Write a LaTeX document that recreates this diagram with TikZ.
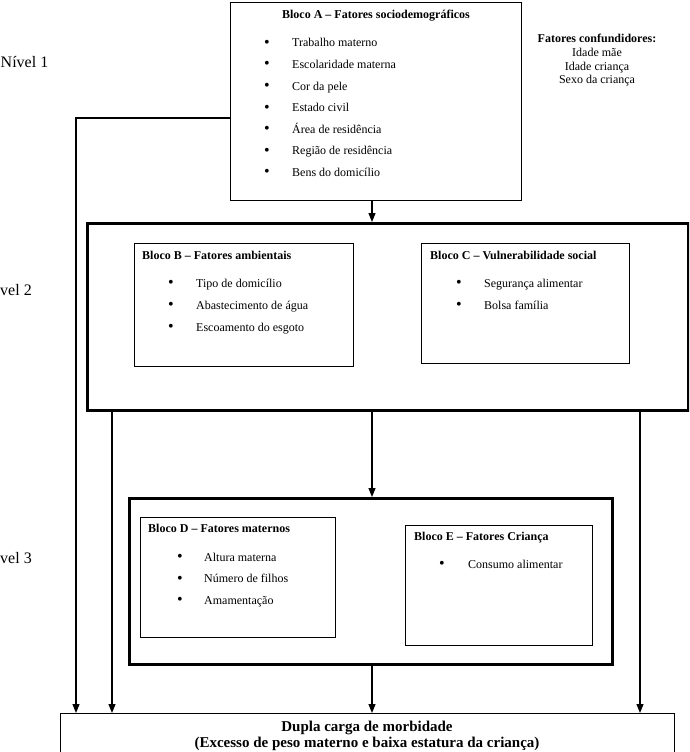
\documentclass[tikz,border=0pt]{standalone}
\usepackage{fontspec}
\setmainfont{Liberation Serif}
\usetikzlibrary{arrows.meta}
\begin{document}
\begin{tikzpicture}[x=1pt,y=-1pt,
  box/.style={draw, line width=0.9pt, inner sep=0pt, anchor=north west},
  bigbox/.style={draw, line width=2.8pt, inner sep=0pt, anchor=north west},
  ttl/.style={font=\fontsize{12}{14}\selectfont\bfseries, inner sep=0pt, anchor=base west},
  itm/.style={font=\fontsize{12}{14}\selectfont, inner sep=0pt, anchor=base west},
  bul/.style={font=\fontsize{16}{18}\selectfont, inner sep=0pt, anchor=base},
  cf/.style={font=\fontsize{12}{14}\selectfont, inner sep=0pt, anchor=base},
  lvl/.style={font=\fontsize{16}{18}\selectfont, inner sep=0pt},
  big/.style={font=\fontsize{15}{17}\selectfont\bfseries, inner sep=0pt, anchor=base},
  arr/.style={line width=1.2pt, -{Triangle[length=9pt,width=7pt]}}
]
\useasboundingbox (0,0) rectangle (689,752);
\clip (0,0) rectangle (689,752);

% boxes
\node[box, minimum width=291pt, minimum height=198pt] (A) at (230,2) {};
\node[bigbox, minimum width=601pt, minimum height=187pt] (BC) at (86,222) {};
\node[box, minimum width=219pt, minimum height=123pt] (B) at (134,243) {};
\node[box, minimum width=208pt, minimum height=120pt] (C) at (421,243) {};
\node[bigbox, minimum width=483pt, minimum height=166pt] (DE) at (128,497) {};
\node[box, minimum width=195pt, minimum height=120pt] (D) at (140,517) {};
\node[box, minimum width=187pt, minimum height=120pt] (E) at (405,525) {};
\node[box, minimum width=614pt, minimum height=70pt] (F) at (60,713) {};

% level labels
\node[lvl, anchor=west] (n1) at (0.5,62) {Nível 1};
\node[lvl, anchor=west] (n2) at (0,290) {vel 2};
\node[lvl, anchor=west] (n3) at (0,558) {vel 3};

% Block A
\node[ttl, anchor=base] (At) at (376,19) {Bloco A – Fatores sociodemográficos};
\foreach \t [count=\i] in {Trabalho materno, Escolaridade materna, Cor da pele, Estado civil, Área de residência, Região de residência, Bens do domicílio} {
  \node[bul] (Ab\i) at (267,{47.5+21.5*(\i-1)}) {•};
  \node[itm] (Ai\i) at (292,{47+21.5*(\i-1)}) {\t};
}

% confounders
\node[cf, font=\fontsize{12}{14}\selectfont\bfseries] (cf0) at (597,43) {Fatores confundidores:};
\node[cf] (cf1) at (597,57) {Idade mãe};
\node[cf] (cf2) at (597,70.5) {Idade criança};
\node[cf] (cf3) at (597,84) {Sexo da criança};

% Block B
\node[ttl] (Bt) at (142,259) {Bloco B – Fatores ambientais};
\foreach \t [count=\i] in {Tipo de domicílio, Abastecimento de água, Escoamento do esgoto} {
  \node[bul] (Bb\i) at (171,{287.5+22*(\i-1)}) {•};
  \node[itm] (Bi\i) at (196,{287+22*(\i-1)}) {\t};
}

% Block C
\node[ttl] (Ct) at (430,259) {Bloco C – Vulnerabilidade social};
\foreach \t [count=\i] in {Segurança alimentar, Bolsa família} {
  \node[bul] (Cb\i) at (459,{287.5+22*(\i-1)}) {•};
  \node[itm] (Ci\i) at (484,{287+22*(\i-1)}) {\t};
}

% Block D
\node[ttl] (Dt) at (148,532) {Bloco D – Fatores maternos};
\foreach \t [count=\i] in {Altura materna, Número de filhos, Amamentação} {
  \node[bul] (Db\i) at (180,{561.5+21.5*(\i-1)}) {•};
  \node[itm] (Di\i) at (204,{561+21.5*(\i-1)}) {\t};
}

% Block E
\node[ttl] (Et) at (414,540) {Bloco E – Fatores Criança};
\node[bul] (Eb1) at (442,568.5) {•};
\node[itm] (Ei1) at (468,568) {Consumo alimentar};

% outcome
\node[big] (F1) at (367,731) {Dupla carga de morbidade};
\node[big] (F2) at (367,747.5) {(Excesso de peso materno e baixa estatura da criança)};

% connectors
\draw[arr] (A.west |- 0,118) -| (F.north -| 76,0);
\draw[arr] (A.south -| 372,0) -- (BC.north -| 372,0);
\draw[arr] (BC.south -| 112,0) -- (F.north -| 112,0);
\draw[arr] (BC.south -| 372,0) -- (DE.north -| 372,0);
\draw[arr] (BC.south -| 640,0) -- (F.north -| 640,0);
\draw[arr] (DE.south -| 372,0) -- (F.north -| 372,0);
\end{tikzpicture}
\end{document}
